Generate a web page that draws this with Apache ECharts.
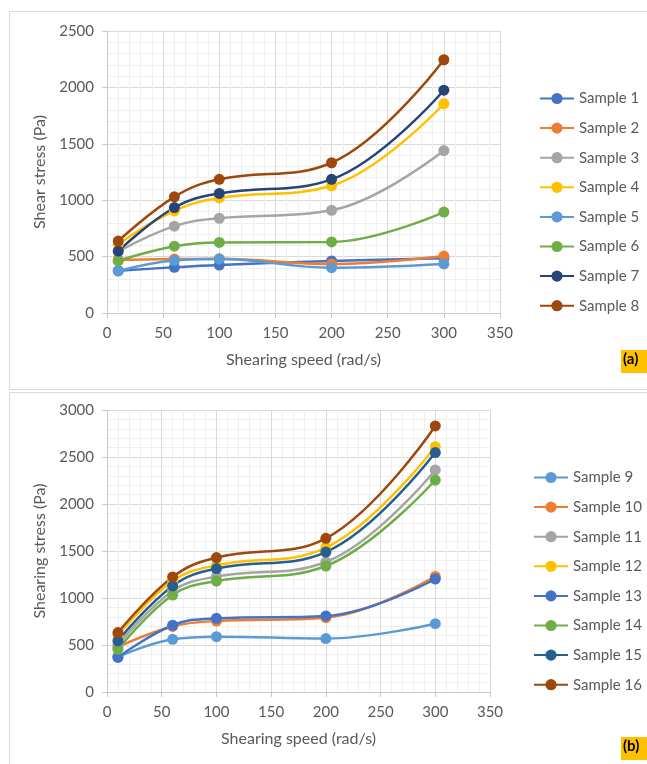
<!DOCTYPE html>
<html><head><meta charset="utf-8">
<script src="https://cdn.jsdelivr.net/npm/echarts@6/dist/echarts.min.js"></script>
<style>html,body{margin:0;padding:0;background:#fff}#c{width:647px;height:764px}</style>
</head><body><div id="c"></div>
<script>
// Shearing speeds (rad/s)
var speeds = [10, 60, 100, 200, 300];
var xTicks = [0, 50, 100, 150, 200, 250, 300, 350];

// Panel (a) – shear stress (Pa)
var namesA = ['Sample 1','Sample 2','Sample 3','Sample 4','Sample 5','Sample 6','Sample 7','Sample 8'];
var sample1 = [375, 405, 425, 462, 485];
var sample2 = [470, 478, 480, 435, 505];
var sample3 = [545, 770, 840, 910, 1440];
var sample4 = [610, 905, 1020, 1128, 1855];
var sample5 = [372, 465, 478, 402, 435];
var sample6 = [463, 592, 626, 630, 895];
var sample7 = [549, 935, 1060, 1185, 1975];
var sample8 = [638, 1030, 1185, 1332, 2245];

// Panel (b) – shearing stress (Pa)
var namesB = ['Sample 9','Sample 10','Sample 11','Sample 12','Sample 13','Sample 14','Sample 15','Sample 16'];
var sample9  = [375, 561, 589, 568, 727];
var sample10 = [480, 697, 755, 791, 1230];
var sample11 = [500, 1075, 1228, 1383, 2362];
var sample12 = [600, 1180, 1348, 1536, 2610];
var sample13 = [368, 710, 784, 809, 1202];
var sample14 = [454, 1032, 1181, 1340, 2255];
var sample15 = [543, 1128, 1313, 1489, 2547];
var sample16 = [632, 1224, 1430, 1635, 2830];

var valuesA = [sample1, sample2, sample3, sample4, sample5, sample6, sample7, sample8];
var valuesB = [sample9, sample10, sample11, sample12, sample13, sample14, sample15, sample16];
var colorsA = ['#4472C4','#ED7D31','#A5A5A5','#FFC000','#5B9BD5','#70AD47','#264478','#9E480E'];
var colorsB = ['#5B9BD5','#ED7D31','#A5A5A5','#FFC000','#4472C4','#70AD47','#255E91','#9E480E'];

var FONT = 'Lato, "Open Sans", sans-serif';
var TXT = '#595959';

function mkSeries(names, vals, colors, idx) {
  return names.map(function (n, i) {
    return {
      name: n, type: 'line', xAxisIndex: idx, yAxisIndex: idx,
      smooth: 0.4, symbol: 'circle', symbolSize: 11,
      lineStyle: { width: 2.5, color: colors[i] },
      itemStyle: { color: colors[i] },
      data: speeds.map(function (s, k) { return [s, vals[i][k]]; })
    };
  });
}

function plain(v) { return String(v); }

function xAxis(idx) {
  return {
    gridIndex: idx, type: 'value', min: 0, max: 350, interval: 50,
    name: 'Shearing speed (rad/s)', nameLocation: 'middle', nameGap: 39,
    nameTextStyle: { fontFamily: FONT, fontSize: 16, color: TXT },
    axisLine: { show: true, lineStyle: { color: '#c8c8c8', width: 1 } },
    axisTick: { show: true, length: 5, lineStyle: { color: '#c8c8c8' } },
    axisLabel: { fontFamily: FONT, fontSize: 15, color: TXT, margin: 13, formatter: plain },
    splitLine: { show: true, lineStyle: { color: '#d9d9d9', width: 1 } },
    minorTick: { show: false, splitNumber: 5 },
    minorSplitLine: { show: true, lineStyle: { color: '#efefef', width: 1 } }
  };
}
function yAxis(idx, max, name) {
  return {
    gridIndex: idx, type: 'value', min: 0, max: max, interval: 500,
    name: name, nameLocation: 'middle', nameGap: 52,
    nameTextStyle: { fontFamily: FONT, fontSize: 16, color: TXT },
    axisLine: { show: true, lineStyle: { color: '#c8c8c8', width: 1 } },
    axisTick: { show: true, length: 5, lineStyle: { color: '#c8c8c8' } },
    axisLabel: { fontFamily: FONT, fontSize: 15, color: TXT, margin: 13, formatter: plain },
    splitLine: { show: true, lineStyle: { color: '#d9d9d9', width: 1 } },
    minorTick: { show: false, splitNumber: 5 },
    minorSplitLine: { show: true, lineStyle: { color: '#efefef', width: 1 } }
  };
}
function legend(names, left, top) {
  return {
    data: names, orient: 'vertical', left: left, top: top,
    itemWidth: 34, itemHeight: 14, itemGap: 14.6,
    textStyle: { fontFamily: FONT, fontSize: 15, color: TXT, lineHeight: 14 },
    selectedMode: false
  };
}

var chart = echarts.init(document.getElementById('c'), null, { renderer: 'canvas' });
chart.setOption({
  animation: false,
  backgroundColor: '#fff',
  grid: [
    { left: 107, top: 31, right: 147, bottom: 451 },
    { left: 107, top: 410, right: 157, bottom: 72 }
  ],
  xAxis: [xAxis(0), xAxis(1)],
  yAxis: [yAxis(0, 2500, 'Shear stress (Pa)'), yAxis(1, 3000, 'Shearing stress (Pa)')],
  legend: [legend(namesA, 534, 86), legend(namesB, 528, 465)],
  graphic: [
    { type: 'rect', shape: { x: 9.5, y: 11.5, width: 660, height: 378 }, style: { fill: 'none', stroke: '#d9d9d9', lineWidth: 1 }, z: -1 },
    { type: 'rect', shape: { x: 9.5, y: 392.5, width: 660, height: 390 }, style: { fill: 'none', stroke: '#d9d9d9', lineWidth: 1 }, z: -1 },
    { type: 'rect', shape: { x: 621, y: 350, width: 26, height: 23 }, style: { fill: '#FFC000' } },
    { type: 'text', x: 623, y: 352, style: { text: '(a)', font: 'bold 15px ' + FONT, fill: '#000' } },
    { type: 'rect', shape: { x: 621, y: 737, width: 26, height: 23 }, style: { fill: '#FFC000' } },
    { type: 'text', x: 623, y: 739, style: { text: '(b)', font: 'bold 15px ' + FONT, fill: '#000' } }
  ],
  series: mkSeries(namesA, valuesA, colorsA, 0).concat(mkSeries(namesB, valuesB, colorsB, 1))
});
</script></body></html>
